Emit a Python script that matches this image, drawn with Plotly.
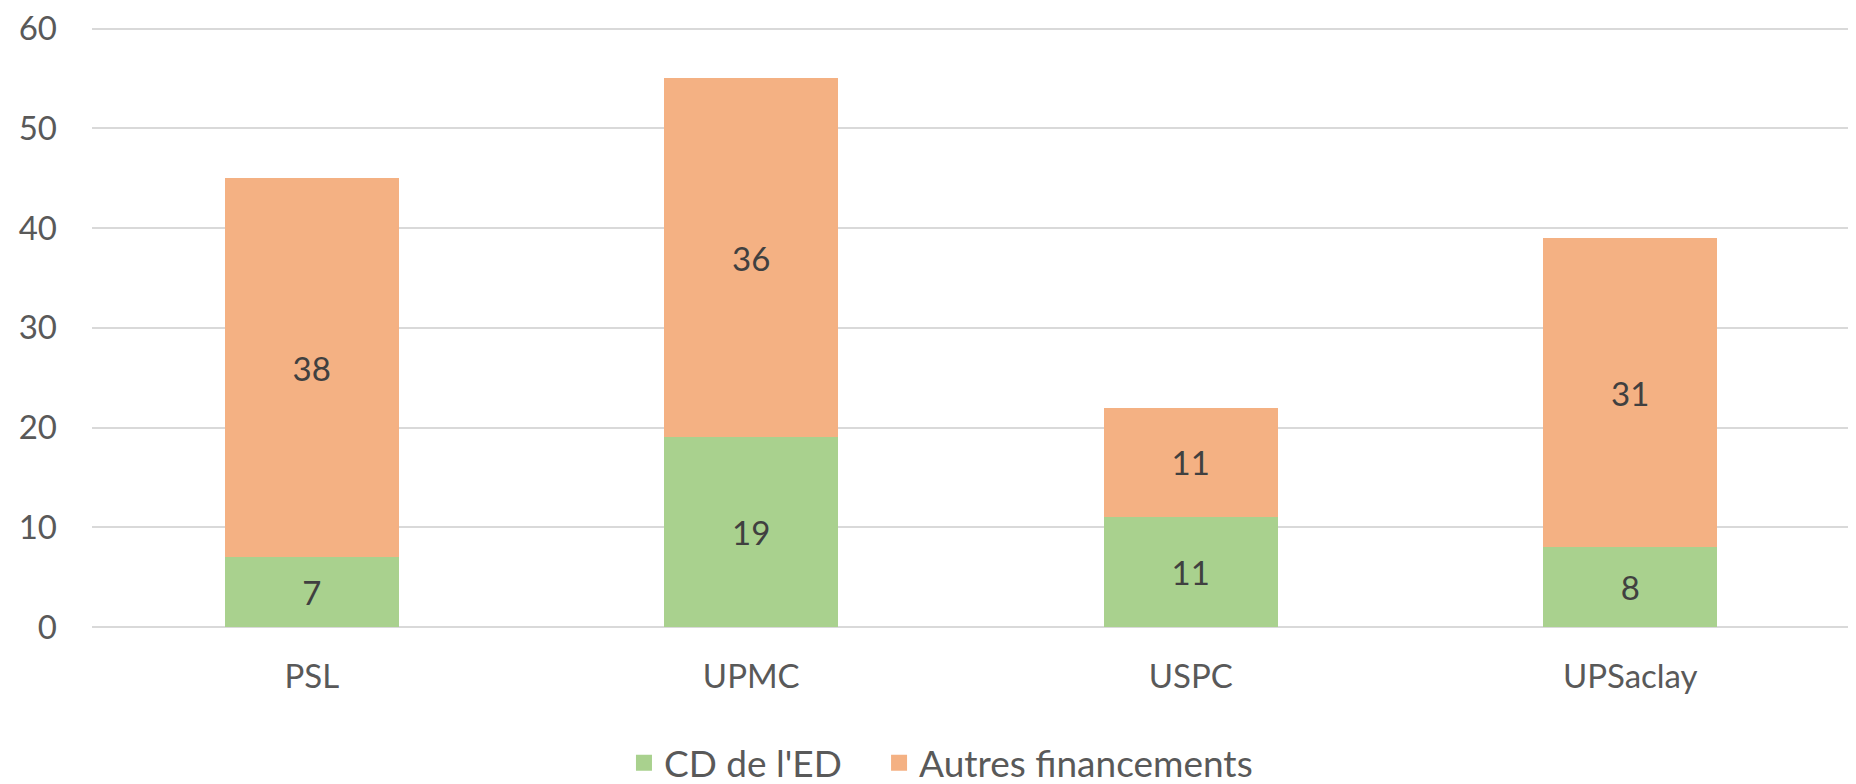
import plotly.graph_objects as go

categories = ["PSL", "UPMC", "USPC", "UPSaclay"]
cd_ed = [7, 19, 11, 8]
autres = [38, 36, 11, 31]
series_names = ["CD de l'ED", "Autres financements"]
series_colors = ["#A9D18E", "#F4B183"]
y_ticks = [0, 10, 20, 30, 40, 50, 60]

FONT = "Lato, sans-serif"
FS = 33

fig = go.Figure()
for vals, name, col in zip([cd_ed, autres], series_names, series_colors):
    fig.add_trace(go.Bar(
        x=categories, y=vals, name=name, legendgroup=name, showlegend=False,
        marker=dict(color=col, line=dict(width=0)),
        text=vals, textposition="inside", insidetextanchor="middle",
        textfont=dict(family=FONT, size=FS, color="#404040"),
    ))
# legend-only entries with larger square swatches, one legend box each
for name, col, lg in zip(series_names, series_colors, ["legend", "legend2"]):
    fig.add_trace(go.Scatter(
        x=[None], y=[None], mode="markers", name=name, legendgroup=name, legend=lg,
        marker=dict(symbol="square", size=22, color=col),
    ))

legend_style = dict(
    orientation="h", xanchor="left", y=-0.227, yanchor="middle",
    font=dict(family=FONT, size=37, color="#595959"), itemwidth=30,
)

fig.update_layout(
    barmode="stack",
    bargap=0.604,
    width=1848, height=776,
    margin=dict(l=84, r=6, t=19, b=157, autoexpand=False),
    paper_bgcolor="white", plot_bgcolor="white",
    font=dict(family=FONT, size=FS, color="#595959"),
    uniformtext=dict(minsize=FS, mode="show"),
    legend=dict(x=0.3026, **legend_style),
    legend2=dict(x=0.4477, **legend_style),
    showlegend=True,
)
fig.update_xaxes(
    showgrid=False, showline=False, ticks="", automargin=False,
    ticklabelstandoff=27,
    tickfont=dict(family=FONT, size=FS, color="#595959"),
)
fig.update_yaxes(
    range=[0, 60.15], tickvals=y_ticks, showgrid=True, gridcolor="#D9D9D9", gridwidth=2,
    zeroline=True, zerolinecolor="#D9D9D9", zerolinewidth=2,
    showline=False, ticks="", ticklabelstandoff=34, automargin=False,
    ticklabeloverflow="allow",
    tickfont=dict(family=FONT, size=FS, color="#595959"),
)

fig.write_html("out.html")
